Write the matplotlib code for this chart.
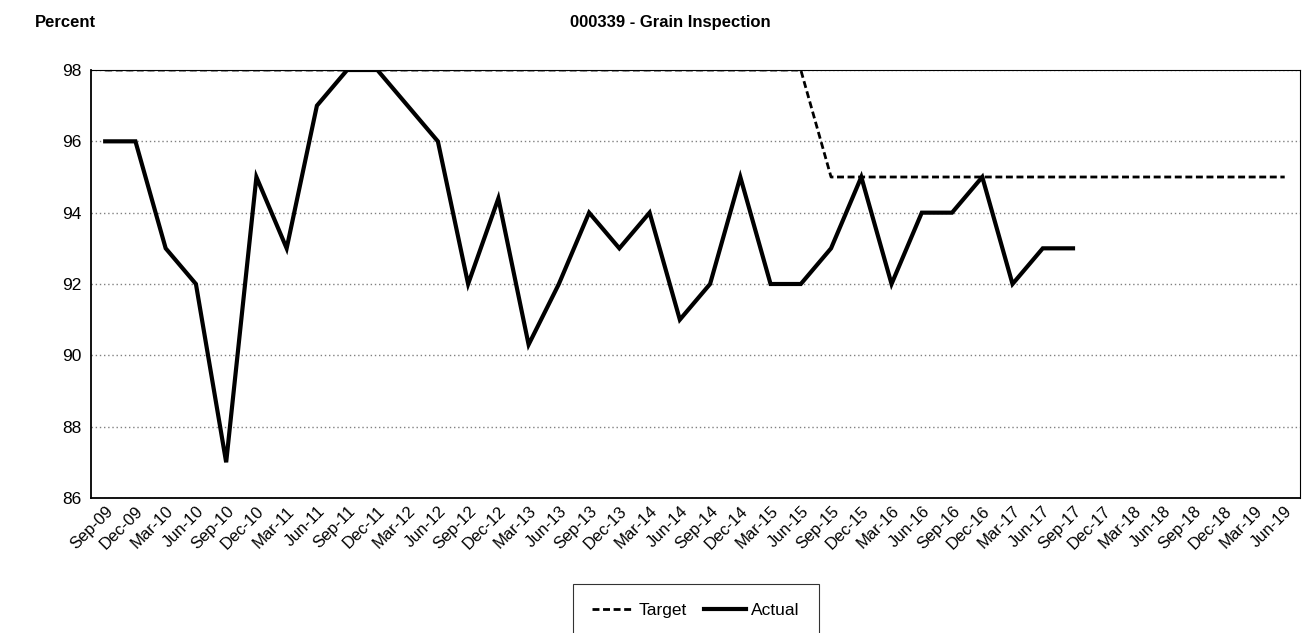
import matplotlib

matplotlib.use("Agg")
import matplotlib.pyplot as plt

plt.rcParams["font.family"] = ["Liberation Sans", "DejaVu Sans"]

quarters = [
    "Sep-09", "Dec-09", "Mar-10", "Jun-10", "Sep-10", "Dec-10", "Mar-11", "Jun-11",
    "Sep-11", "Dec-11", "Mar-12", "Jun-12", "Sep-12", "Dec-12", "Mar-13", "Jun-13",
    "Sep-13", "Dec-13", "Mar-14", "Jun-14", "Sep-14", "Dec-14", "Mar-15", "Jun-15",
    "Sep-15", "Dec-15", "Mar-16", "Jun-16", "Sep-16", "Dec-16", "Mar-17", "Jun-17",
    "Sep-17", "Dec-17", "Mar-18", "Jun-18", "Sep-18", "Dec-18", "Mar-19", "Jun-19",
]
target = [98] * 24 + [95] * 16
actual = [
    96, 96, 93, 92, 87, 95, 93, 97, 98, 98, 97, 96, 92, 94.4, 90.3, 92,
    94, 93, 94, 91, 92, 95, 92, 92, 93, 95, 92, 94, 94, 95, 92, 93, 93,
]
y_ticks = [86, 88, 90, 92, 94, 96, 98]

fig = plt.figure(figsize=(13.09, 6.33), dpi=100)
ax = fig.add_axes([0.0695, 0.2133, 0.9235, 0.6761])

x_all = list(range(len(quarters)))
ax.plot(x_all, target, color="black", lw=2, ls=(0, (2.5, 1.3)), label="Target")
ax.plot(x_all[:len(actual)], actual, color="black", lw=3, label="Actual",
        solid_joinstyle="miter")

ax.set_ylim(86, 98)
ax.set_xlim(-0.47, 39.5)
ax.set_yticks(y_ticks)
ax.set_yticklabels([str(v) for v in y_ticks], fontsize=12.5)
ax.set_xticks(x_all)
ax.set_xticklabels(quarters, rotation=45, ha="right", rotation_mode="anchor",
                   fontsize=12)
ax.tick_params(axis="both", length=0, pad=7)
ax.tick_params(axis="x", pad=4)
ax.grid(axis="y", color="#808080", ls=(0, (1, 2)), lw=1)
for side in ["left", "bottom"]:
    ax.spines[side].set_linewidth(1.3)
for side in ["top", "right"]:
    ax.spines[side].set_linewidth(0.8)

fig.text(0.027, 0.965, "Percent", fontsize=12, fontweight="bold", va="center")
fig.text(0.512, 0.965, "000339 - Grain Inspection", fontsize=12,
         fontweight="bold", va="center", ha="center")

leg = fig.legend(loc="upper center", bbox_to_anchor=(0.5315, 0.0915), ncol=2,
                 frameon=True, fancybox=False, edgecolor="black", fontsize=12.5,
                 handlelength=2.4, columnspacing=1.0, handletextpad=0.3,
                 borderpad=1.1)
leg.get_frame().set_linewidth(0.8)

fig.savefig("out.png")
